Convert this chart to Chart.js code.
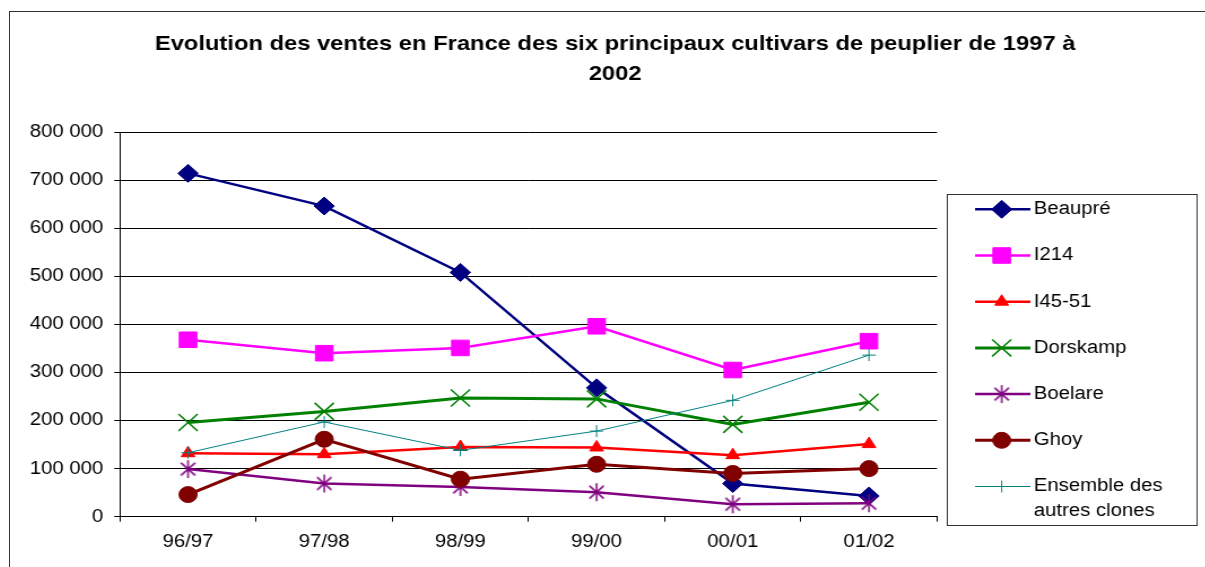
<!DOCTYPE html>
<html><head><meta charset="utf-8">
<script src="https://cdn.jsdelivr.net/npm/chart.js@4/dist/chart.umd.min.js"></script>
<style>
html,body{margin:0;padding:0;background:#fff;overflow:hidden;width:1205px;height:567px}
#frame{position:absolute;left:9px;top:11px;width:1240px;height:600px;border:1px solid #333;background:#fff;overflow:hidden}
#c{position:absolute;left:0;top:0;transform:scaleX(1.13);transform-origin:0 0}
</style></head><body>
<div id="frame"><canvas id="c" width="1071" height="555"></canvas></div>
<script>
const categories = ['96/97', '97/98', '98/99', '99/00', '00/01', '01/02'];
const seriesNames = ['Beaupré', 'I214', 'I45-51', 'Dorskamp', 'Boelare', 'Ghoy', 'Ensemble des autres clones'];
const beaupre  = [714000, 646000, 508000, 268000, 69000, 43000];
const i214     = [368000, 340000, 351000, 396000, 305000, 365000];
const i4551    = [132000, 130000, 145000, 144000, 128000, 151000];
const dorskamp = [196000, 219000, 247000, 245000, 192000, 238000];
const boelare  = [99000, 69000, 62000, 51000, 26000, 28000];
const ghoy     = [46000, 161000, 78000, 109000, 90000, 100000];
const autres   = [133000, 197000, 138000, 178000, 242000, 336000];
const titleLines = ['Evolution des ventes en France des six principaux cultivars de peuplier de 1997 à', '2002'];

const FONT = '"Liberation Sans", Arial, sans-serif';

function starImage(color) {
  const c = document.createElement('canvas');
  c.width = 22; c.height = 22;
  const g = c.getContext('2d');
  g.strokeStyle = color; g.lineWidth = 1.5;
  const cx = 11, cy = 11, r = 9;
  g.beginPath();
  g.moveTo(cx, cy - r); g.lineTo(cx, cy + r);
  const a = Math.PI / 4;
  g.moveTo(cx - r * Math.cos(a), cy - r * Math.sin(a)); g.lineTo(cx + r * Math.cos(a), cy + r * Math.sin(a));
  g.moveTo(cx - r * Math.cos(a), cy + r * Math.sin(a)); g.lineTo(cx + r * Math.cos(a), cy - r * Math.sin(a));
  g.stroke();
  return c;
}

const styles = [
  {color: '#000080', style: 'rectRot',  radius: 9,  bw: 1,   lw: 2.5},
  {color: '#FF00FF', style: 'rect',     radius: 11, bw: 1,   lw: 2.5},
  {color: '#FF0000', style: 'triangle', radius: 7,  bw: 1,   lw: 2.5},
  {color: '#008000', style: 'crossRot', radius: 12, bw: 1.5, lw: 3},
  {color: '#800080', style: starImage('#800080'), radius: 9, bw: 1.5, lw: 2.5},
  {color: '#800000', style: 'circle',   radius: 8,  bw: 1,   lw: 3},
  {color: '#008080', style: 'cross',    radius: 6,  bw: 1,   lw: 1}
];
const values = [beaupre, i214, i4551, dorskamp, boelare, ghoy, autres];

const datasets = values.map((v, i) => ({
  label: seriesNames[i],
  data: v,
  borderColor: styles[i].color,
  backgroundColor: styles[i].color,
  pointBackgroundColor: styles[i].color,
  pointBorderColor: styles[i].color,
  borderWidth: styles[i].lw,
  pointStyle: styles[i].style,
  pointRadius: styles[i].radius,
  pointBorderWidth: styles[i].bw,
  pointHoverRadius: styles[i].radius,
  tension: 0,
  fill: false,
  order: values.length - i
}));

const fmt = v => String(v).replace(/\B(?=(\d{3})+(?!\d))/g, ' ');

const legendPlugin = {
  id: 'excelLegend',
  afterDraw(chart) {
    const ctx = chart.ctx;
    const box = {l: 829, r: 1050, t: 182, b: 513};
    ctx.save();
    ctx.strokeStyle = '#333';
    ctx.lineWidth = 1;
    ctx.strokeRect(box.l + 0.5, box.t + 0.5, box.r - box.l, box.b - box.t);
    const x0 = 854, x1 = 903, mx = 877.6, tx = 906;
    const rowY = 197.3, rowStep = 46.2;
    ctx.font = '18px ' + FONT;
    ctx.textBaseline = 'middle';
    ctx.textAlign = 'left';
    chart.data.datasets.forEach((ds, i) => {
      const y = rowY + i * rowStep;
      ctx.strokeStyle = ds.borderColor;
      ctx.lineWidth = ds.borderWidth;
      ctx.beginPath(); ctx.moveTo(x0, y); ctx.lineTo(x1, y); ctx.stroke();
      ctx.fillStyle = ds.pointBackgroundColor;
      ctx.strokeStyle = ds.pointBorderColor;
      ctx.lineWidth = ds.pointBorderWidth;
      if (Chart.helpers && Chart.helpers.drawPoint) {
        Chart.helpers.drawPoint(ctx, {pointStyle: ds.pointStyle, radius: ds.pointRadius, rotation: 0, borderWidth: ds.pointBorderWidth}, mx, y);
      }
      const words = ds.label.split(' ');
      const lines = [];
      let cur = '';
      words.forEach(w => {
        const t = cur ? cur + ' ' + w : w;
        if (ctx.measureText(t).width > box.r - tx - 6 && cur) { lines.push(cur); cur = w; } else cur = t;
      });
      lines.push(cur);
      ctx.fillStyle = '#000';
      lines.forEach((ln, k) => ctx.fillText(ln, tx, y + k * 25));
    });
    ctx.restore();
  }
};

new Chart(document.getElementById('c'), {
  type: 'line',
  data: {labels: categories, datasets},
  plugins: [legendPlugin],
  options: {
    responsive: false,
    animation: false,
    devicePixelRatio: 1,
    layout: {padding: {left: 0, right: 0, top: 0, bottom: 0}},
    plugins: {
      legend: {display: false},
      tooltip: {enabled: false},
      title: {
        display: true,
        text: titleLines,
        color: '#000',
        font: {family: FONT, size: 21, weight: 'bold', lineHeight: 30 / 21},
        padding: {top: 17, bottom: 43}
      }
    },
    scales: {
      x: {
        type: 'category',
        offset: true,
        afterFit: s => { s.height = 50.3; },
        grid: {display: true, drawOnChartArea: false, drawTicks: true, tickLength: 5, offset: true, color: '#000', lineWidth: 1},
        border: {display: true, color: '#000', width: 1},
        ticks: {color: '#000', font: {family: FONT, size: 18}, padding: 10, maxRotation: 0, autoSkip: false}
      },
      y: {
        min: 0, max: 800000,
        afterFit: s => { s.width = 97.3; },
        grid: {display: true, drawTicks: true, tickLength: 5, color: '#000', lineWidth: 1},
        border: {display: true, color: '#000', width: 1},
        ticks: {stepSize: 100000, color: '#000', font: {family: FONT, size: 18}, padding: 9.7, callback: v => fmt(v)}
      },
      legendSpace: {
        type: 'linear',
        position: 'right',
        display: true,
        afterFit: s => { s.width = 250.6; },
        grid: {display: false, drawOnChartArea: false, drawTicks: false},
        border: {display: false},
        ticks: {display: false}
      }
    }
  }
});
</script>
</body></html>
